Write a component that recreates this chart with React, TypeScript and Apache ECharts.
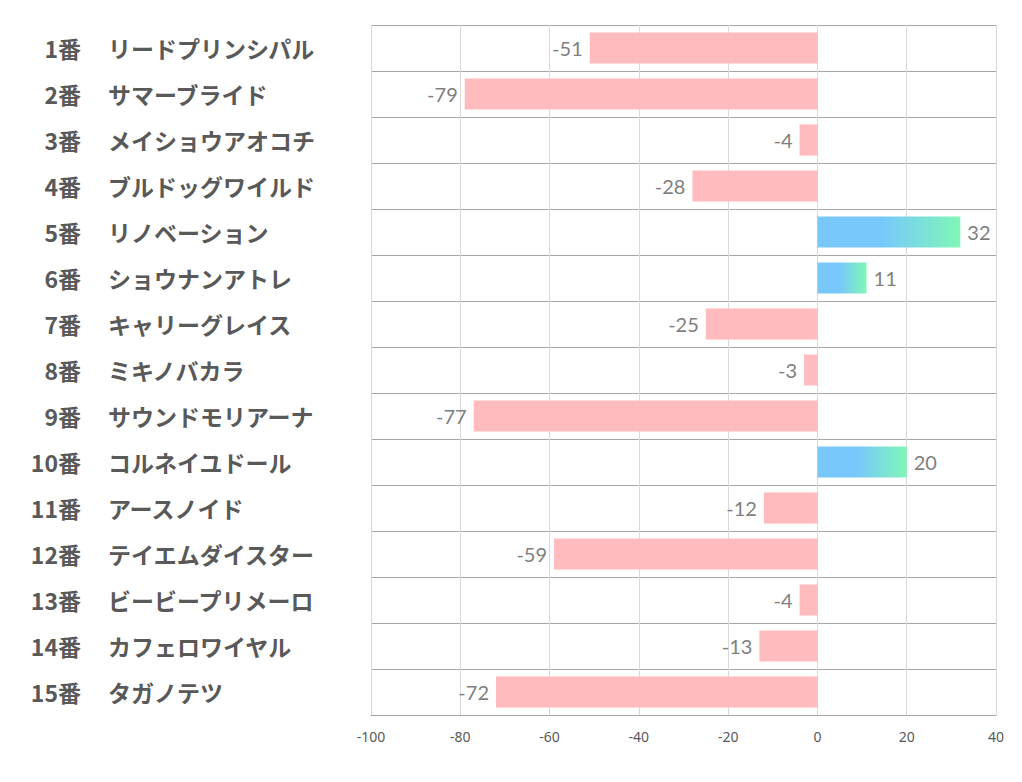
import React, { useEffect, useRef } from "react";
import * as echarts from "echarts";

const numbers = ["1番", "2番", "3番", "4番", "5番", "6番", "7番", "8番", "9番", "10番", "11番", "12番", "13番", "14番", "15番"];
const names = [
  "リードプリンシパル",
  "サマーブライド",
  "メイショウアオコチ",
  "ブルドッグワイルド",
  "リノベーション",
  "ショウナンアトレ",
  "キャリーグレイス",
  "ミキノバカラ",
  "サウンドモリアーナ",
  "コルネイユドール",
  "アースノイド",
  "テイエムダイスター",
  "ビービープリメーロ",
  "カフェロワイヤル",
  "タガノテツ",
];
const values = [-51, -79, -4, -28, 32, 11, -25, -3, -77, 20, -12, -59, -4, -13, -72];
const xTicks = { min: -100, max: 40, interval: 20 };

export default function App() {
  const ref = useRef<HTMLDivElement>(null);
  useEffect(() => {
    if (!ref.current) return;
    const chart = echarts.init(ref.current, undefined, { renderer: "svg" });
    const posGrad = new echarts.graphic.LinearGradient(0, 0, 1, 0, [
      { offset: 0, color: "#78c8fc" },
      { offset: 0.45, color: "#78c8fc" },
      { offset: 1, color: "#7ff7b6" },
    ]);
    const labelFont = {
      fontSize: 23,
      fontWeight: "bold" as const,
      color: "#595959",
      fontFamily: "'Noto Sans CJK JP', sans-serif",
      padding: [0, 0, 5, 0],
    };
    chart.setOption({
      animation: false,
      backgroundColor: "#ffffff",
      grid: { left: 371, right: 26, top: 25, bottom: 67, containLabel: false },
      xAxis: {
        type: "value",
        min: xTicks.min,
        max: xTicks.max,
        interval: xTicks.interval,
        axisLine: { show: true, lineStyle: { color: "#a6a6a6" } },
        axisTick: { show: false },
        splitLine: { show: true, lineStyle: { color: "#d9d9d9", width: 1 } },
        axisLabel: {
          color: "#595959",
          fontSize: 14,
          fontFamily: "'Noto Sans', sans-serif",
          margin: 14,
        },
      },
      yAxis: [
        {
          type: "category",
          inverse: true,
          data: names,
          position: "left",
          axisLine: { show: false },
          axisTick: { show: false },
          splitLine: { show: true, lineStyle: { color: "#a6a6a6", width: 1 } },
          axisLabel: { ...labelFont, align: "left", margin: 263 },
        },
        {
          type: "category",
          inverse: true,
          data: numbers,
          position: "left",
          axisLine: { show: false },
          axisTick: { show: false },
          splitLine: { show: false },
          axisLabel: { ...labelFont, align: "right", margin: 290 },
        },
      ],
      series: [
        {
          type: "bar",
          yAxisIndex: 0,
          barWidth: 31,
          data: values.map((v) => ({
            value: v,
            itemStyle: { color: v < 0 ? "#ffbbbd" : posGrad },
            label: {
              show: true,
              position: v < 0 ? "left" : "right",
              distance: 7,
              color: "#7f7f7f",
              fontSize: 20,
              fontFamily: "Lato, 'Noto Sans', sans-serif",
            },
          })),
        },
      ],
    });
    return () => chart.dispose();
  }, []);
  return <div ref={ref} style={{ position: "fixed", left: 0, top: 0, width: 1022, height: 782 }} />;
}
